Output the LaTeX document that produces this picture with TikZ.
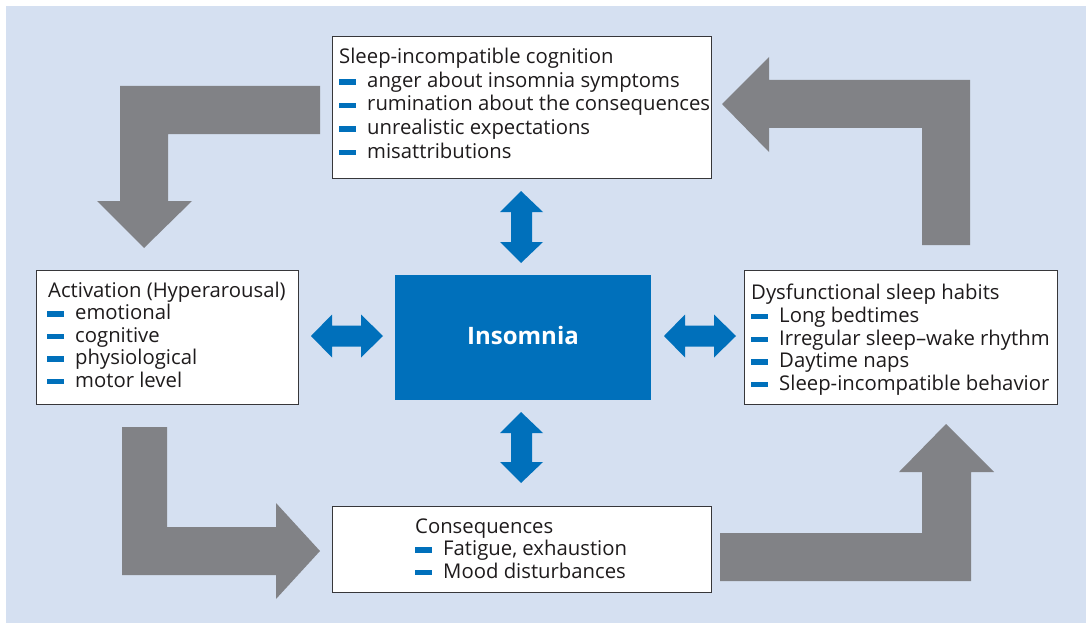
\documentclass[tikz,border=0pt]{standalone}
\usepackage{fontspec}
\setmainfont{Open Sans}
\definecolor{panel}{RGB}{213,224,241}
\definecolor{ibl}{RGB}{0,112,187}
\definecolor{arrgray}{RGB}{129,130,134}
\definecolor{txt}{RGB}{30,27,28}
\definecolor{frame}{RGB}{55,55,58}
% blue dash used as list marker
\newcommand\blt{\textcolor{ibl}{\rule[0.13em]{0.84em}{0.27em}}\hspace{0.54em}}
\begin{document}
\begin{tikzpicture}[x=1pt,y=-1pt,
  font=\fontsize{20.3}{23}\selectfont,
  infobox/.style={draw=frame,line width=1.1pt,fill=white,anchor=north west,inner sep=0},
  lbl/.style={anchor=base west,inner sep=0,text=txt},
  grayarrow/.style={fill=arrgray},
  bluearrow/.style={fill=ibl}]
\useasboundingbox (0,0) rectangle (1086,623);
\fill[panel] (6,6) rectangle (1086,623);

% cycle arrows
\fill[grayarrow] (320,86) -- (120,86) -- (120,201) -- (97,201) -- (144,248) -- (192,201) -- (168,201) -- (168,134) -- (320,134) -- cycle;
\fill[grayarrow] (922,245) -- (922,128) -- (769,128) -- (769,152) -- (722,104) -- (769,57) -- (769,80) -- (970,80) -- (970,245) -- cycle;
\fill[grayarrow] (122,427) -- (167,427) -- (167,527) -- (276,527) -- (276,503) -- (320,551) -- (276,599) -- (276,575) -- (122,575) -- cycle;
\fill[grayarrow] (720,533) -- (922,533) -- (922,472) -- (899,472) -- (946,424) -- (994,472) -- (971,472) -- (971,581) -- (720,581) -- cycle;

% boxes
\node[infobox,minimum width=379pt,minimum height=142pt] (cog) at (332,36) {};
\node[infobox,minimum width=262pt,minimum height=134pt] (act) at (36,270) {};
\node[infobox,minimum width=313pt,minimum height=134pt] (hab) at (744,270) {};
\node[infobox,minimum width=379pt,minimum height=86pt] (con) at (332,506) {};
\node[fill=ibl,anchor=north west,minimum width=256pt,minimum height=125pt,inner sep=0] (ins) at (395,275) {};
\node[anchor=base,inner sep=0,text=white,font=\fontsize{24}{26}\selectfont\bfseries] (insl) at (523,344) {Insomnia};

% double arrows around the centre
\fill[bluearrow] (521,191) -- (543,212) -- (532,212) -- (532,242) -- (543,242) -- (521,263) -- (500,242) -- (511,242) -- (511,212) -- (500,212) -- cycle;
\fill[bluearrow] (521,412) -- (543,433) -- (532,433) -- (532,462) -- (543,462) -- (521,483) -- (500,462) -- (511,462) -- (511,433) -- (500,433) -- cycle;
\fill[bluearrow] (311,336) -- (332,314.5) -- (332,325.5) -- (361,325.5) -- (361,314.5) -- (383,336) -- (361,357.5) -- (361,346.5) -- (332,346.5) -- (332,357.5) -- cycle;
\fill[bluearrow] (664,336) -- (685,314.5) -- (685,325.5) -- (714,325.5) -- (714,314.5) -- (736,336) -- (714,357.5) -- (714,346.5) -- (685,346.5) -- (685,357.5) -- cycle;

% texts
\node[lbl] (cog0) at (339,64) {Sleep-incompatible cognition};
\node[lbl] (cog1) at (339,87.5) {\blt anger about insomnia symptoms};
\node[lbl] (cog2) at (339,111) {\blt rumination about the consequences};
\node[lbl] (cog3) at (339,134.5) {\blt unrealistic expectations};
\node[lbl] (cog4) at (339,158) {\blt misattributions};

\node[lbl] (act0) at (48,297) {Activation (Hyperarousal)};
\node[lbl] (act1) at (47,319.5) {\blt emotional};
\node[lbl] (act2) at (47,342) {\blt cognitive};
\node[lbl] (act3) at (47,364.5) {\blt physiological};
\node[lbl] (act4) at (47,387) {\blt motor level};

\node[lbl] (hab0) at (751,299) {Dysfunctional sleep habits};
\node[lbl] (hab1) at (751,322) {\blt Long bedtimes};
\node[lbl] (hab2) at (751,345) {\blt Irregular sleep--wake rhythm};
\node[lbl] (hab3) at (751,367.5) {\blt Daytime naps};
\node[lbl] (hab4) at (751,390) {\blt Sleep-incompatible behavior};

\node[lbl] (con0) at (415,533) {Consequences};
\node[lbl] (con1) at (415,555.5) {\blt Fatigue, exhaustion};
\node[lbl] (con2) at (415,578) {\blt Mood disturbances};
\end{tikzpicture}
\end{document}
